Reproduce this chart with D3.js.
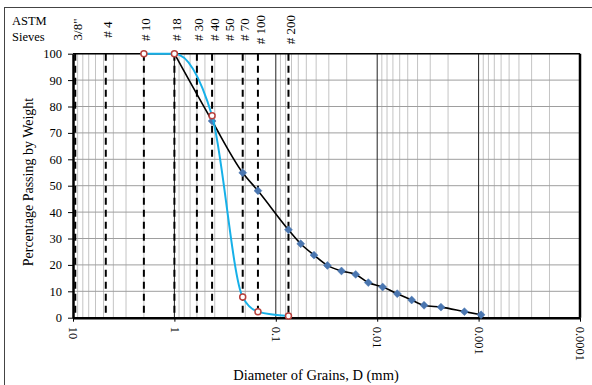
<!DOCTYPE html>
<html><head><meta charset="utf-8">
<script src="https://cdn.jsdelivr.net/npm/d3@7"></script>
<style>
html,body{margin:0;padding:0;background:#fff;}
svg{display:block;}
text{font-family:"Liberation Serif","Times New Roman",serif;fill:#000;}
</style></head>
<body>
<svg id="chart" width="592" height="385"></svg>
<script>
// ---- data ----
const sieveNames = ['3/8"', "# 4", "# 10", "# 18", "# 30", "# 40", "# 50", "# 70", "# 100", "# 200"];
const sieveSizes = [9.5, 4.75, 2.0, 1.0, 0.6, 0.425, 0.3, 0.212, 0.15, 0.075];
const testedSieves = [9.5, 4.75, 2.0, 1.0, 0.6, 0.425, 0.212, 0.15, 0.075];

// sieve analysis (cyan curve, red circles)
const sieveD = [2.0, 1.0, 0.425, 0.212, 0.15, 0.075];
const sievePass = [100, 100, 76.5, 7.8, 2.3, 0.6];

// combined grading (black curve, blue diamonds)
const gradD = [1.0, 0.425, 0.212, 0.15, 0.075, 0.0568, 0.042, 0.031, 0.0225, 0.0163, 0.01224, 0.00883, 0.00634, 0.00457, 0.00345, 0.00235, 0.00138, 0.000946];
const gradPass = [100, 74.5, 54.9, 48.1, 33.3, 28.0, 23.7, 19.8, 17.7, 16.4, 13.3, 11.6, 9.1, 6.7, 4.7, 4.0, 2.3, 1.1];

const xTicks = [10, 1, 0.1, 0.01, 0.001, 0.0001];
const xTickLabels = ["10", "1", "0.1", "0.01", "0.001", "0.0001"];
const yTicks = [0, 10, 20, 30, 40, 50, 60, 70, 80, 90, 100];

// ---- layout ----
const FONT = '"Liberation Serif","Times New Roman",serif';
const svg = d3.select("#chart");
const L = 73, R = 580, T = 53.7, B = 317.7;
const x = d3.scaleLog().domain([10, 0.0001]).range([L, R]);
const y = d3.scaleLinear().domain([0, 100]).range([B, T]);

// outer frame
svg.append("rect").attr("x", 4.5).attr("y", 7.5).attr("width", 700).attr("height", 500)
  .attr("fill", "none").attr("stroke", "#444").attr("stroke-width", 1);

// minor vertical grid
const minor = [];
for (let k = -4; k <= 0; k++) for (let m = 2; m <= 9; m++) minor.push(m * Math.pow(10, k));
svg.append("g").selectAll("line").data(minor).join("line")
  .attr("x1", d => x(d)).attr("x2", d => x(d)).attr("y1", T).attr("y2", B)
  .attr("stroke", "#c4c4c4").attr("stroke-width", 1);

// horizontal grid
svg.append("g").selectAll("line").data(yTicks.slice(1)).join("line")
  .attr("x1", L).attr("x2", R).attr("y1", d => y(d)).attr("y2", d => y(d))
  .attr("stroke", "#9e9e9e").attr("stroke-width", 1);

// decade lines
svg.append("g").selectAll("line").data(xTicks.slice(1, -1)).join("line")
  .attr("x1", d => x(d)).attr("x2", d => x(d)).attr("y1", T).attr("y2", B)
  .attr("stroke", "#222").attr("stroke-width", 1);

// sieve dashed lines
svg.append("g").selectAll("line").data(testedSieves).join("line")
  .attr("x1", d => x(d)).attr("x2", d => x(d)).attr("y1", T).attr("y2", B)
  .attr("stroke", "#000").attr("stroke-width", 2).attr("stroke-dasharray", "7,5");

// sieve labels
svg.append("g").selectAll("text").data(sieveNames).join("text")
  .attr("transform", (d, i) => `translate(${x(sieveSizes[i]) + 2},29.5) rotate(-90)`)
  .attr("dy", "0.35em").attr("text-anchor", "middle")
  .style("font-size", "13px").style("font-family", FONT)
  .text(d => d);

svg.append("text").attr("x", 12).attr("y", 24.5).style("font-size", "12.5px").style("font-family", FONT).text("ASTM");
svg.append("text").attr("x", 12).attr("y", 40.5).style("font-size", "12.5px").style("font-family", FONT).text("Sieves");

// plot frame top & right
svg.append("line").attr("x1", L).attr("x2", R).attr("y1", T).attr("y2", T)
  .attr("stroke", "#000").attr("stroke-width", 1.5);
svg.append("line").attr("x1", R).attr("x2", R).attr("y1", T).attr("y2", B)
  .attr("stroke", "#000").attr("stroke-width", 2.5);

// axes
const yAxis = svg.append("g").attr("transform", `translate(${L},0)`)
  .call(d3.axisLeft(y).tickValues(yTicks).tickSize(5).tickPadding(6).tickSizeOuter(0))
  .attr("font-family", FONT).attr("font-size", 12.5);
yAxis.select(".domain").attr("stroke", "#000").attr("stroke-width", 2.5);
yAxis.selectAll("text").style("font-size", "12.5px").style("font-family", FONT);

const xAxis = svg.append("g").attr("transform", `translate(0,${B})`)
  .call(d3.axisBottom(x).tickValues(xTicks).tickFormat((d, i) => xTickLabels[i]).tickSize(4).tickSizeOuter(0))
  .attr("font-family", FONT).attr("font-size", 12.5);
xAxis.select(".domain").attr("stroke", "#000").attr("stroke-width", 2.5);
xAxis.selectAll("text").attr("transform", "rotate(90)").attr("x", 9).attr("y", 0)
  .attr("dy", "0.35em").style("text-anchor", "start").style("font-size", "12.5px")
  .style("font-family", FONT);

// axis titles
svg.append("text").attr("x", 316).attr("y", 380).attr("text-anchor", "middle")
  .style("font-size", "14.5px").style("font-family", FONT).text("Diameter of Grains, D (mm)");
svg.append("text").attr("transform", "translate(33,182) rotate(-90)").attr("text-anchor", "middle")
  .style("font-size", "14px").style("font-family", FONT).text("Percentage Passing by Weight");

// curves
const line = d3.line().curve(d3.curveMonotoneX);
const gradPts = gradD.map((d, i) => [x(d), y(gradPass[i])]);
const sievePts = sieveD.map((d, i) => [x(d), y(sievePass[i])]);

svg.append("path").attr("d", line(gradPts)).attr("fill", "none")
  .attr("stroke", "#000").attr("stroke-width", 1.6);
svg.append("g").selectAll("path").data(gradPts.slice(1)).join("path")
  .attr("transform", d => `translate(${d[0]},${d[1]})`)
  .attr("d", d3.symbol(d3.symbolDiamond2, 40)())
  .attr("fill", "#4a76b0").attr("stroke", "#4a76b0").attr("stroke-width", 0.5);

svg.append("path").attr("d", line(sievePts)).attr("fill", "none")
  .attr("stroke", "#16b0e8").attr("stroke-width", 2);
svg.append("g").selectAll("circle").data(sievePts).join("circle")
  .attr("cx", d => d[0]).attr("cy", d => d[1]).attr("r", 3)
  .attr("fill", "#fff").attr("stroke", "#b8423e").attr("stroke-width", 1.5);
</script>
</body></html>
